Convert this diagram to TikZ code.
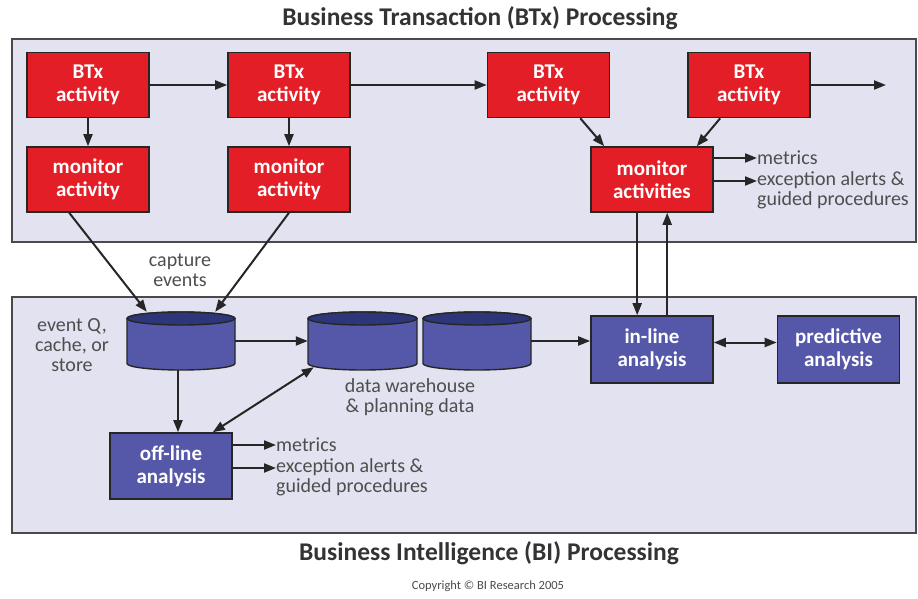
\documentclass[tikz,border=0pt]{standalone}
\usepackage{fontspec}
\setmainfont{Carlito}
\usetikzlibrary{arrows.meta}
\definecolor{panelfill}{HTML}{E2E2F0}
\definecolor{panelline}{HTML}{4A4A4A}
\definecolor{redfill}{HTML}{E41E26}
\definecolor{bluefill}{HTML}{5558A8}
\definecolor{bluetop}{HTML}{2C3679}
\definecolor{lblgrey}{HTML}{4E4E4E}
\tikzset{
  panel/.style={draw=panelline,line width=2pt,fill=panelfill},
  redbox/.style={draw=black!85,line width=1.6pt,fill=redfill,text=white,minimum width=122pt,minimum height=65pt,inner sep=0pt,align=center,font=\fontsize{21}{23}\selectfont\bfseries},
  bluebox/.style={redbox,fill=bluefill},
  cylbox/.style={minimum width=108pt,minimum height=58pt,inner sep=0pt},
  lbl/.style={text=lblgrey,inner sep=0pt,font=\fontsize{20}{20}\selectfont},
  arr/.style={-{Triangle[length=12pt,width=9pt]},line width=2pt,draw=black!85},
  darr/.style={{Triangle[length=12pt,width=9pt]}-{Triangle[length=12pt,width=9pt]},line width=2pt,draw=black!85},
  ttl/.style={text=black!80,inner sep=0pt,font=\fontsize{25.5}{27}\selectfont\bfseries}
}
\newcommand{\drawcyl}[3]{% cx, half width, name
  \draw[line width=1.4pt,draw=black!85,fill=bluefill]
    ({#1-#2},-318.5) -- ({#1-#2},-363.5) arc[start angle=180,end angle=360,x radius=#2,y radius=6.5]
    -- ({#1+#2},-318.5) arc[start angle=0,end angle=180,x radius=#2,y radius=6.5] -- cycle;
  \draw[line width=1.4pt,draw=black!85,fill=bluetop] (#1,-318.5) ellipse[x radius=#2,y radius=6.5];
  \node[cylbox,minimum width=2*#2 pt] (#3) at (#1,-341) {};
}
\begin{document}
\begin{tikzpicture}[x=1pt,y=1pt]
\useasboundingbox[fill=white] (0,0) rectangle (918,-599);
% panels
\draw[panel] (12,-39) rectangle (916,-242);
\draw[panel] (12,-297) rectangle (916,-533);
\node[ttl] (t1) at (480,-18) {Business Transaction (BTx) Processing};
\node[ttl] (t2) at (489,-553) {Business Intelligence (BI) Processing};
\node[text=black!70,inner sep=0pt,font=\fontsize{12.5}{13}\selectfont] (cp) at (488,-586) {Copyright © BI Research 2005};
% red boxes
\node[redbox] (b1) at (88,-85) {BTx\\activity};
\node[redbox] (b2) at (289,-85) {BTx\\activity};
\node[redbox] (b3) at (548.5,-85) {BTx\\activity};
\node[redbox] (b4) at (749,-85) {BTx\\activity};
\node[redbox] (m1) at (88,-179.5) {monitor\\activity};
\node[redbox] (m2) at (289,-179.5) {monitor\\activity};
\node[redbox] (ma) at (652,-179.5) {monitor\\activities};
\coordinate (out) at (886,-85);
% blue boxes
\node[bluebox,minimum height=67pt] (il) at (652,-349.5) {in-line\\analysis};
\node[bluebox,minimum height=67pt] (pa) at (838.5,-349.5) {predictive\\analysis};
\node[bluebox,minimum height=66pt] (ol) at (171,-466) {off-line\\analysis};
% cylinders
\drawcyl{181}{54}{cq}
\drawcyl{362.5}{54.5}{cw1}
\drawcyl{477}{54}{cw2}
% labels
\node[lbl,align=center] (ce) at (180,-270) {capture\\events};
\node[lbl,align=center] (eq) at (72,-345) {event Q,\\cache, or\\store};
\node[lbl,align=center] (dw) at (410,-397) {data warehouse\\\& planning data};
\node[lbl,anchor=west] (mt1) at (757,-158) {metrics};
\node[lbl,anchor=north west,align=left] (ex1) at (757,-171) {exception alerts \&\\guided procedures};
\node[lbl,anchor=west] (mt2) at (276,-445) {metrics};
\node[lbl,anchor=north west,align=left] (ex2) at (276,-458) {exception alerts \&\\guided procedures};
\coordinate (ex1a) at ([yshift=-10pt]ex1.north west);
\coordinate (ex2a) at ([yshift=-10pt]ex2.north west);
% connectors top
\draw[arr] (b1) -- (b2);
\draw[arr] (b2) -- (b3);
\draw[arr] (b4) -- (out);
\draw[arr] (b1) -- (m1);
\draw[arr] (b2) -- (m2);
\draw[arr] ([xshift=-30pt]b3.south east) -- ([xshift=14pt]ma.north west);
\draw[arr] ([xshift=33pt]b4.south west) -- ([xshift=-17pt]ma.north east);
\draw[arr] (mt1.west -| ma.east) -- (mt1.west);
\draw[arr] (ex1a -| ma.east) -- (ex1a);
% to BI
\draw[arr] ([xshift=43pt]m1.south west) -- ([xshift=20pt]cq.north west);
\draw[arr] (m2.south) -- ([xshift=-20pt]cq.north east);
\draw[arr] ([xshift=47pt]ma.south west) -- ([xshift=47pt]il.north west);
\draw[arr] ([xshift=77pt]il.north west) -- ([xshift=77pt]ma.south west);
% BI connectors
\draw[arr] (cq.east) -- (cw1.west);
\draw[arr] (cw2.east) -- (cw2.east -| il.west);
\draw[darr] ([yshift=7pt]il.east) -- ([yshift=7pt]pa.west);
\draw[arr] ([xshift=-3pt]cq.south) -- ([xshift=7pt]ol.north);
\draw[darr] ([xshift=-20pt]ol.north east) -- ([xshift=6pt,yshift=3pt]cw1.south west);
\draw[arr] (mt2.west -| ol.east) -- (mt2.west);
\draw[arr] (ex2a -| ol.east) -- (ex2a);
\end{tikzpicture}
\end{document}
